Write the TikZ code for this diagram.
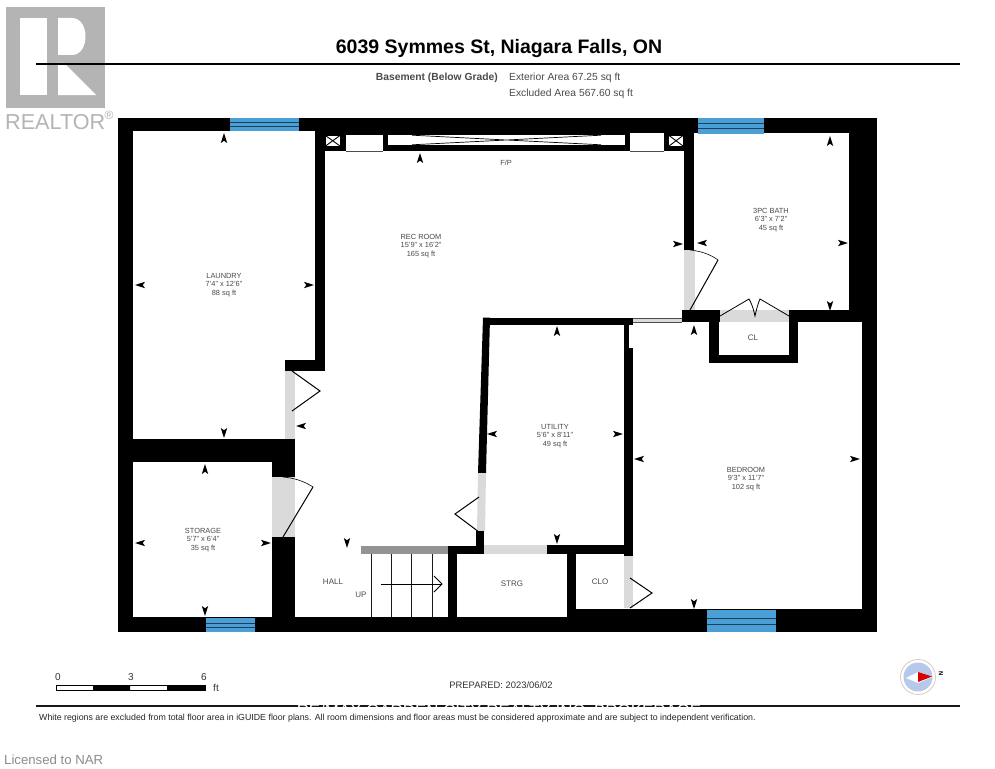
\documentclass[tikz,border=0pt]{standalone}
\usepackage{fontspec}
\setmainfont{Liberation Sans}
\definecolor{wgray}{HTML}{DADADA}
\definecolor{winblue}{HTML}{4A9FD6}
\definecolor{logogray}{HTML}{B4B4B4}
\definecolor{txtgray}{HTML}{4A4A4A}
\tikzset{
  wall/.style={fill=black,draw=none},
  doorfill/.style={fill=wgray,draw=none},
  leaf/.style={draw=black,line width=1pt,line join=miter},
  roomlabel/.style={font=\fontsize{7.4}{8.5}\selectfont,text=txtgray,align=center,inner sep=0pt},
  smalllabel/.style={font=\fontsize{8}{9}\selectfont,text=txtgray,inner sep=0pt},
  hdr/.style={font=\fontsize{10.3}{11}\selectfont,text=txtgray,inner sep=0pt,anchor=west},
  mk/.pic={\fill[black] (5,0) -- (-5,3.2) -- (-2.8,0) -- (-5,-3.2) -- cycle;}
}
\newcommand{\winH}[4]{% x1 x2 y1 y2
  \fill[winblue] (#1,#3) rectangle (#2,#4);
  \draw[black!60!winblue,line width=.6pt] (#1,{#3+(#4-#3)*.37}) -- (#2,{#3+(#4-#3)*.37});
  \draw[black!60!winblue,line width=.6pt] (#1,{#3+(#4-#3)*.63}) -- (#2,{#3+(#4-#3)*.63});
}
\begin{document}
\begin{tikzpicture}[x=1pt,y=-1pt]
\useasboundingbox (0,0) rectangle (995,768);
\fill[white] (0,0) rectangle (995,768);
% logo
\fill[logogray] (6,7) rectangle (105,108);
\fill[white] (20,18) rectangle (47,95);
\fill[white] (58,18) -- (72,18) .. controls (90,18) and (90,55) .. (72,55) -- (58,55) -- cycle;
\fill[white] (58,63) -- (58,95) -- (96,95) -- (64,63) -- cycle;
\node[font=\fontsize{21.6}{22}\selectfont,text=logogray,inner sep=0pt,anchor=west] (realtor) at (5,122) {REALTOR};
\node[font=\fontsize{12}{12}\selectfont,text=logogray,inner sep=0pt] (reg) at (109,115) {®};
% header
\draw[black,line width=1pt] (36,64) -- (960,64);
\node[font=\bfseries\fontsize{19.5}{20}\selectfont,inner sep=0pt] (title) at (499,49) {6039 Symmes St, Niagara Falls, ON};
\node[hdr,font=\bfseries\fontsize{10.3}{11}\selectfont,anchor=east] (basement) at (498,78) {Basement (Below Grade)};
\node[hdr] (ext) at (509,78) {Exterior Area 67.25 sq ft};
\node[hdr] (exc) at (509,94) {Excluded Area 567.60 sq ft};
% walls
\fill[wall] (118,117.5) rectangle (877,133);
\fill[wall] (118,117.5) rectangle (133,632);
\fill[wall] (118,617) rectangle (877,632);
\fill[wall] (862,117.5) rectangle (877,632);
\fill[wall] (849,117.5) rectangle (877,322);
\fill[wall] (133,117.5) rectangle (299,131);
\fill[white] (133,131) rectangle (315,133);
\fill[white] (694,133) rectangle (849,134);
% laundry / rec wall
\fill[wall] (315,117.5) rectangle (325,370);
\fill[wall] (285,360) rectangle (325,371);
\fill[doorfill] (285,371) rectangle (295,439);
\fill[wall] (118,439) rectangle (295,462);
\fill[wall] (272,462) rectangle (295,477);
\fill[doorfill] (272,477) rectangle (295,537);
\fill[wall] (272,537) rectangle (295,618);
% fireplace
\fill[wall] (315,117.5) rectangle (694,135);
\fill[wall] (325,135) rectangle (684,151);
\fill[white] (388,135) rectangle (625,145);
\fill[white] (346,135) rectangle (383,151);
\draw[black!70,line width=.4pt] (346,151) -- (383,151);
\fill[white] (630,133) rectangle (664,151);
\draw[black!70,line width=.4pt] (630,151) -- (664,151);
\fill[white] (325.5,135.5) rectangle (340,146);
\draw[black,line width=.9pt] (325.5,135.5) -- (340,146) (325.5,146) -- (340,135.5);
\fill[white] (669,135.5) rectangle (683,146);
\draw[black,line width=.9pt] (669,135.5) -- (683,146) (669,146) -- (683,135.5);
\draw[black,line width=.7pt] (412,135.2) -- (601,144.8) (412,144.8) -- (601,135.2);
% right of rec
\fill[wall] (684,117.5) rectangle (694,250);
\fill[doorfill] (684,250) rectangle (695,310);
\draw[leaf] (690,310) -- (718,260);
\draw[black,line width=.6pt] (690,250) .. controls (700,251) and (710,254) .. (718,260);
\fill[wall] (682,310) rectangle (720,322);
\fill[wall] (709,320) rectangle (719,363);
\fill[wall] (709,355) rectangle (798,363);
\fill[wall] (789,310) rectangle (798,363);
\fill[wall] (789,310) rectangle (862,322);
\fill[doorfill] (720,310) rectangle (789,322);
\draw[black,line width=.8pt] (720,316) -- (749,299) .. controls (753,306) and (754,312) .. (755,316) .. controls (756,312) and (757,306) .. (760,299) -- (789,316);
% thin door to bedroom
\fill[wgray] (633,318) rectangle (682,322);
\draw[black!70,line width=.4pt] (633,318) -- (682,318) (633,322) -- (682,322);
% utility
\fill[wall] (483,317.5) rectangle (633,325);
\fill[wall] (483,317.5) -- (490,317.5) -- (486,473) -- (478,473) -- cycle;
\fill[doorfill] (478,473) -- (486,473) -- (485,531) -- (477,531) -- cycle;
\fill[wall] (476,531) rectangle (484,554);
\fill[wall] (448,546) rectangle (484,554);
\fill[doorfill] (484,545) rectangle (547,554);
\fill[wall] (547,545) rectangle (633,554);
\fill[wall] (624,322) rectangle (629,348);
\fill[wall] (624,348) rectangle (633,556);
\fill[doorfill] (624,556) rectangle (633,608);
\draw[leaf] (630,608) -- (652,593) -- (630,578);
\fill[wall] (448,546) rectangle (457,618);
\fill[wall] (567,554) rectangle (576,618);
\fill[wall] (576,609) rectangle (862,618);
% door leaves
\draw[leaf] (292,371) -- (320,391) -- (292,411);
\draw[leaf] (283,537) -- (313,487);
\draw[black,line width=.6pt] (283,477) .. controls (294,478) and (304,481) .. (313,487);
\draw[leaf] (479,532) -- (455,514) -- (479,497);
% stairs
\fill[gray!85] (361,546) rectangle (448,554);
\draw[black!90,line width=.8pt] (371,554) -- (371,617) (391,554) -- (391,617) (411.5,554) -- (411.5,617) (432,554) -- (432,617);
\draw[black,line width=.8pt] (381,584) -- (442,584);
\draw[black,line width=.8pt] (434,576) -- (442,584) -- (434,592);
% windows
\winH{230}{299}{117.5}{131}
\winH{698}{764}{117.5}{134}
\winH{206}{255}{618}{632}
\winH{707}{776}{610}{632}
% dimension ticks
\foreach \x/\y/\a in {224/138/90,140/285/180,309/285/0,224/433/-90,
  420/158/90,678/244/0,347/543/-90,301/426/180,
  830/141/90,702/243/180,843/243/0,830/306/-90,
  694/330/90,639/459/180,855/459/0,694/604/-90,
  557/331/90,492/434/180,618/434/0,557/539/-90,
  205/469/90,140/543/180,266/543/0,205/611/-90}
  \pic[rotate=\a] at (\x,\y) {mk};
% room labels
\node[roomlabel] (laundry) at (224,285) {LAUNDRY\\7'4" x 12'6"\\88 sq ft};
\node[roomlabel] (rec) at (421,246) {REC ROOM\\15'9" x 16'2"\\165 sq ft};
\node[roomlabel] (bath) at (771,220) {3PC BATH\\6'3" x 7'2"\\45 sq ft};
\node[roomlabel] (util) at (555,436) {UTILITY\\5'6" x 8'11"\\49 sq ft};
\node[roomlabel] (bed) at (746,479) {BEDROOM\\9'3" x 11'7"\\102 sq ft};
\node[roomlabel] (stor) at (203,540) {STORAGE\\5'7" x 6'4"\\35 sq ft};
\node[roomlabel] (fp) at (506,163) {F/P};
\node[smalllabel] (cl) at (753,338) {CL};
\node[smalllabel] (strg) at (512,584) {STRG};
\node[smalllabel] (clo) at (600,582) {CLO};
\node[smalllabel] (hall) at (333,582) {HALL};
\node[smalllabel] (up) at (361,595) {UP};
% scale bar
\draw[black,line width=.5pt,fill=white] (56,685) rectangle (205,690);
\fill[black] (93,685) rectangle (130,690) (167,685) rectangle (205,690);
\node[font=\fontsize{10}{11}\selectfont,inner sep=0pt,text=black!80] (s0) at (58,677) {0};
\node[font=\fontsize{10}{11}\selectfont,inner sep=0pt,text=black!80] (s3) at (131,677) {3};
\node[font=\fontsize{10}{11}\selectfont,inner sep=0pt,text=black!80] (s6) at (204,677) {6};
\node[font=\fontsize{10}{11}\selectfont,inner sep=0pt,text=black!80] (sft) at (216,688) {ft};
\node[font=\fontsize{9.4}{10}\selectfont,inner sep=0pt,text=black!80] (prep) at (501,685) {PREPARED: 2023/06/02};
% compass
\draw[brown!40!gray!40,line width=.8pt,fill=white] (918,677) circle (17.5);
\fill[cyan!50!blue!28] (918,677) circle (14.5);
\fill[white] (906,678) -- (918,672) -- (932,677) -- (918,683) -- cycle;
\fill[red!85!black] (918,672) -- (932,676.5) -- (918,682) -- cycle;
\node[font=\bfseries\fontsize{6}{6}\selectfont,rotate=-90,inner sep=0pt] (north) at (941,674) {N};
% footer
\draw[black!90,line width=1.8pt] (36,706) -- (960,706);
\node[font=\fontsize{16.9}{17}\selectfont,inner sep=0pt,text=white] (wm) at (499,710.5) {RE/MAX GARDEN CITY REALTY INC. BROKERAGE};
\node[font=\fontsize{8.8}{9}\selectfont,inner sep=0pt,anchor=west,text=black!85] (note) at (39,718.5) {White regions are excluded from total floor area in iGUIDE floor plans. All room dimensions and floor areas must be considered approximate and are subject to independent verification.};
\node[font=\fontsize{13.2}{14}\selectfont,inner sep=0pt,anchor=west,text=black!45] (lic) at (4,760) {Licensed to NAR};
\end{tikzpicture}
\end{document}
